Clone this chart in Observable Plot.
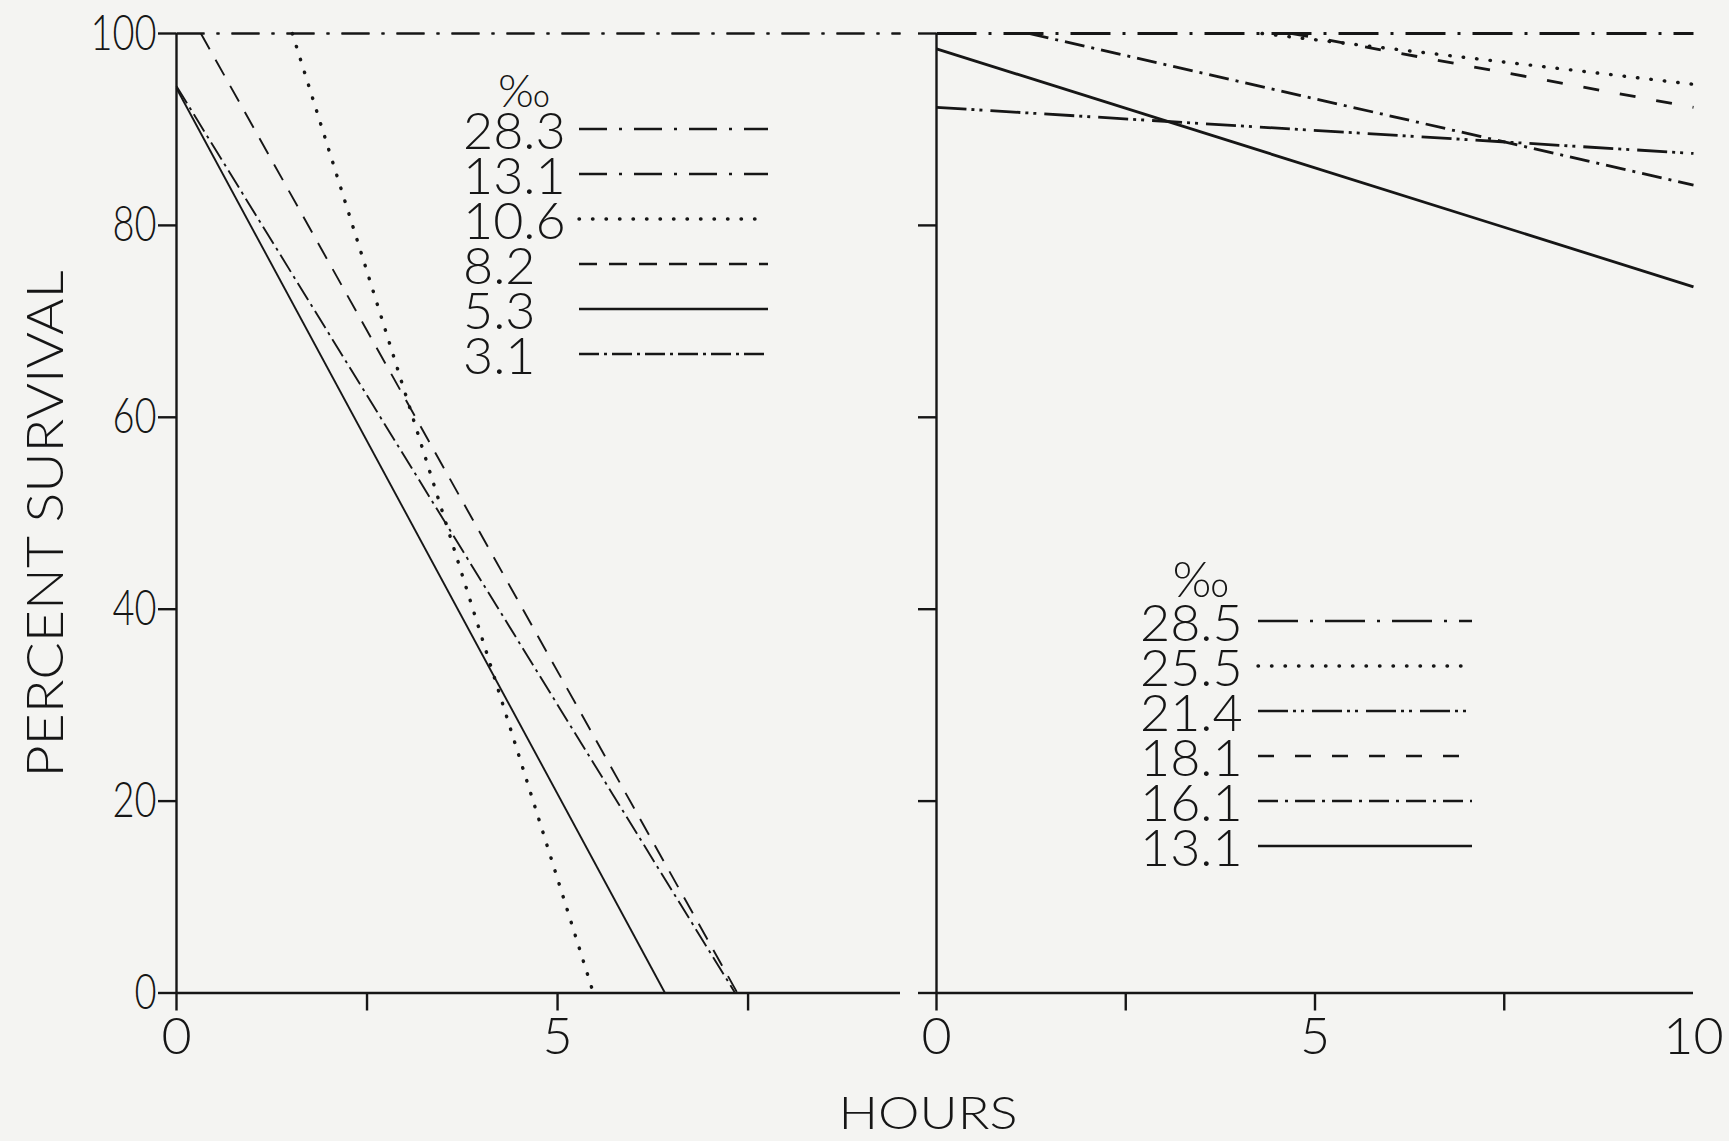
<!DOCTYPE html>
<html>
<head>
<meta charset="utf-8">
<script src="https://cdn.jsdelivr.net/npm/d3@7"></script>
<script src="https://cdn.jsdelivr.net/npm/@observablehq/plot@0.6"></script>
<style>
  html, body { margin: 0; padding: 0; background: #f4f4f2; }
  #wrap { position: relative; width: 1729px; height: 1141px; overflow: hidden; background: #f4f4f2; }
  #left { position: absolute; left: 0; top: 0; }
  #right { position: absolute; left: 876px; top: 0; }
  #overlay { position: absolute; left: 0; top: 0; pointer-events: none; }
</style>
</head>
<body>
<div id="wrap">
  <div id="left"></div>
  <div id="right"></div>
  <svg id="overlay" width="1729" height="1141"></svg>
</div>
<script>
// ---------- data ----------
// Left panel: salinity (‰) series, straight survival lines (start -> end)
const leftSalinity       = ["28.3", "13.1", "10.6", "8.2", "5.3", "3.1"];
const leftStartHour      = [0, 0, 1.52, 0.32, 0, 0];
const leftStartSurvival  = [100, 100, 100, 100, 94.3, 94.5];
const leftEndHour        = [9.5, 9.5, 5.47, 7.36, 6.41, 7.33];
const leftEndSurvival    = [100, 100, 0, 0, 0, 0];

// Right panel
const rightSalinity      = ["28.5", "25.5", "21.4", "18.1", "16.1", "13.1"];
const rightStartHour     = [0, 4.3, 0, 4.7, 1.22, 0];
const rightStartSurvival = [100, 100, 92.3, 100, 100, 98.4];
const rightEndHour       = [10, 10, 10, 10, 10, 10];
const rightEndSurvival   = [100, 94.7, 87.5, 92.3, 84.2, 73.6];

// Axis ticks / labels
const yTicks      = [0, 20, 40, 60, 80, 100];
const xTickMarks  = [0, 2.5, 5, 7.5];
const xTickLabelsLeft  = [0, 5];
const xTickLabelsRight = [0, 5, 10];
const xTitle = "HOURS";
const yTitle = "PERCENT SURVIVAL";
const legendTitle = "‰";

// ---------- styles ----------
const ink = "#161616";
const FONT = "Lato, 'Open Sans', 'DejaVu Sans', sans-serif";
// pattern, width, linecap per series
const leftStyle = [
  {dash: "28,12,3,12", w: 1.9}, {dash: "28,12,3,12", w: 1.9},
  {dash: "0.5,13", w: 3.4, cap: "round"}, {dash: "18,12", w: 1.9},
  {dash: null, w: 1.9}, {dash: "20,5,3,5", w: 1.9}
];
const rightStyle = [
  {dash: "40,12,3,12", w: 2.8}, {dash: "0.5,13", w: 3.4, cap: "round"},
  {dash: "30,5,3,5,3,8", w: 2.8}, {dash: "16,21", w: 2.8},
  {dash: "20,7,3,7", w: 2.8}, {dash: null, w: 2.8}
];

const toRows = (names, xs1, ys1, xs2, ys2) =>
  names.map((s, i) => ({salinity: s, x1: xs1[i], y1: ys1[i], x2: xs2[i], y2: ys2[i]}));

const leftRows  = toRows(leftSalinity, leftStartHour, leftStartSurvival, leftEndHour, leftEndSurvival);
const rightRows = toRows(rightSalinity, rightStartHour, rightStartSurvival, rightEndHour, rightEndSurvival);

const seriesMarks = (rows, styles) => rows.map((d, i) =>
  Plot.link([d], {
    x1: "x1", y1: "y1", x2: "x2", y2: "y2",
    stroke: ink, strokeWidth: styles[i].w,
    strokeDasharray: styles[i].dash || undefined,
    strokeLinecap: styles[i].cap || "butt"
  }));

const commonStyle = {
  background: "transparent", maxWidth: "none", overflow: "visible",
  fontFamily: FONT, fontWeight: 300, color: ink
};

// ---------- left panel ----------
const leftPlot = Plot.plot({
  width: 902, height: 1141,
  marginLeft: 176, marginRight: 2, marginTop: 33, marginBottom: 148.5,
  x: {domain: [0, 9.5]},
  y: {domain: [0, 100]},
  style: commonStyle,
  marks: [
    Plot.axisY({ticks: yTicks, tickSize: 18, tickPadding: 2, fontSize: 50, label: null, strokeWidth: 2.4}),
    Plot.axisX({ticks: xTickMarks, tickSize: 18, tickFormat: () => "", label: null, strokeWidth: 2.4}),
    Plot.axisX({ticks: xTickLabelsLeft, tickSize: 0, tickPadding: 24, fontSize: 52, label: null}),
    Plot.ruleX([0], {stroke: ink, strokeWidth: 2.4}),
    Plot.ruleY([0], {stroke: ink, strokeWidth: 2.4}),
    ...seriesMarks(leftRows, leftStyle)
  ]
});
document.getElementById("left").appendChild(leftPlot);

// condense the y tick labels a little (the original lettering is narrow)
d3.select(leftPlot).selectAll('g[aria-label="y-axis tick label"] text').each(function () {
  const len = this.getComputedTextLength();
  if (len > 0) {
    this.setAttribute("textLength", (len * 0.76).toFixed(1));
    this.setAttribute("lengthAdjust", "spacingAndGlyphs");
  }
});

// ---------- right panel ----------
const rightPlot = Plot.plot({
  width: 853, height: 1141,
  marginLeft: 60, marginRight: 36, marginTop: 33, marginBottom: 148.5,
  x: {domain: [0, 10]},
  y: {domain: [0, 100]},
  style: commonStyle,
  marks: [
    Plot.axisY({ticks: yTicks, tickSize: 18, tickFormat: () => "", label: null, strokeWidth: 2.4}),
    Plot.axisX({ticks: xTickMarks, tickSize: 18, tickFormat: () => "", label: null, strokeWidth: 2.4}),
    Plot.axisX({ticks: xTickLabelsRight, tickSize: 0, tickPadding: 24, fontSize: 52, label: null}),
    Plot.ruleX([0], {stroke: ink, strokeWidth: 2.4}),
    Plot.ruleY([0], {stroke: ink, strokeWidth: 2.4}),
    ...seriesMarks(rightRows, rightStyle)
  ]
});
document.getElementById("right").appendChild(rightPlot);

// ---------- titles and legends (overlay) ----------
const ov = d3.select("#overlay").style("font-family", FONT).style("font-weight", 300);

ov.append("text")
  .attr("transform", "translate(44,524) rotate(-90)")
  .attr("text-anchor", "middle").attr("dy", "0.36em")
  .attr("font-size", 52).attr("fill", ink)
  .attr("textLength", 507).attr("lengthAdjust", "spacingAndGlyphs")
  .text(yTitle);

ov.append("text")
  .attr("x", 928).attr("y", 1129)
  .attr("text-anchor", "middle")
  .attr("font-size", 46).attr("fill", ink)
  .attr("textLength", 179).attr("lengthAdjust", "spacingAndGlyphs")
  .text(xTitle);

function legend(names, styles, opt) {
  const g = ov.append("g");
  g.append("text")
    .attr("x", opt.headX).attr("y", opt.headY)
    .attr("text-anchor", "middle").attr("dy", "0.36em")
    .attr("font-size", opt.headSize).attr("fill", ink)
    .text(legendTitle);
  names.forEach((s, i) => {
    const y = opt.y0 + i * opt.dy;
    const st = styles[i];
    g.append("text")
      .attr("x", opt.textX).attr("y", y + opt.base)
      .attr("font-size", 52).attr("fill", ink)
      .text(s);
    g.append("line")
      .attr("x1", opt.lx1).attr("x2", opt.lx2)
      .attr("y1", y).attr("y2", y)
      .attr("stroke", ink)
      .attr("stroke-width", st.cap === "round" ? 3.4 : 2.5)
      .attr("stroke-linecap", st.cap || "butt")
      .attr("stroke-dasharray", st.dash || null);
  });
}

legend(leftSalinity, leftStyle,
  {headX: 524, headY: 90, headSize: 46, textX: 463, y0: 129, dy: 45, base: 20, lx1: 579, lx2: 768});
legend(rightSalinity, rightStyle,
  {headX: 1201, headY: 579, headSize: 50, textX: 1140, y0: 621, dy: 45, base: 20, lx1: 1258, lx2: 1472});
</script>
</body>
</html>
